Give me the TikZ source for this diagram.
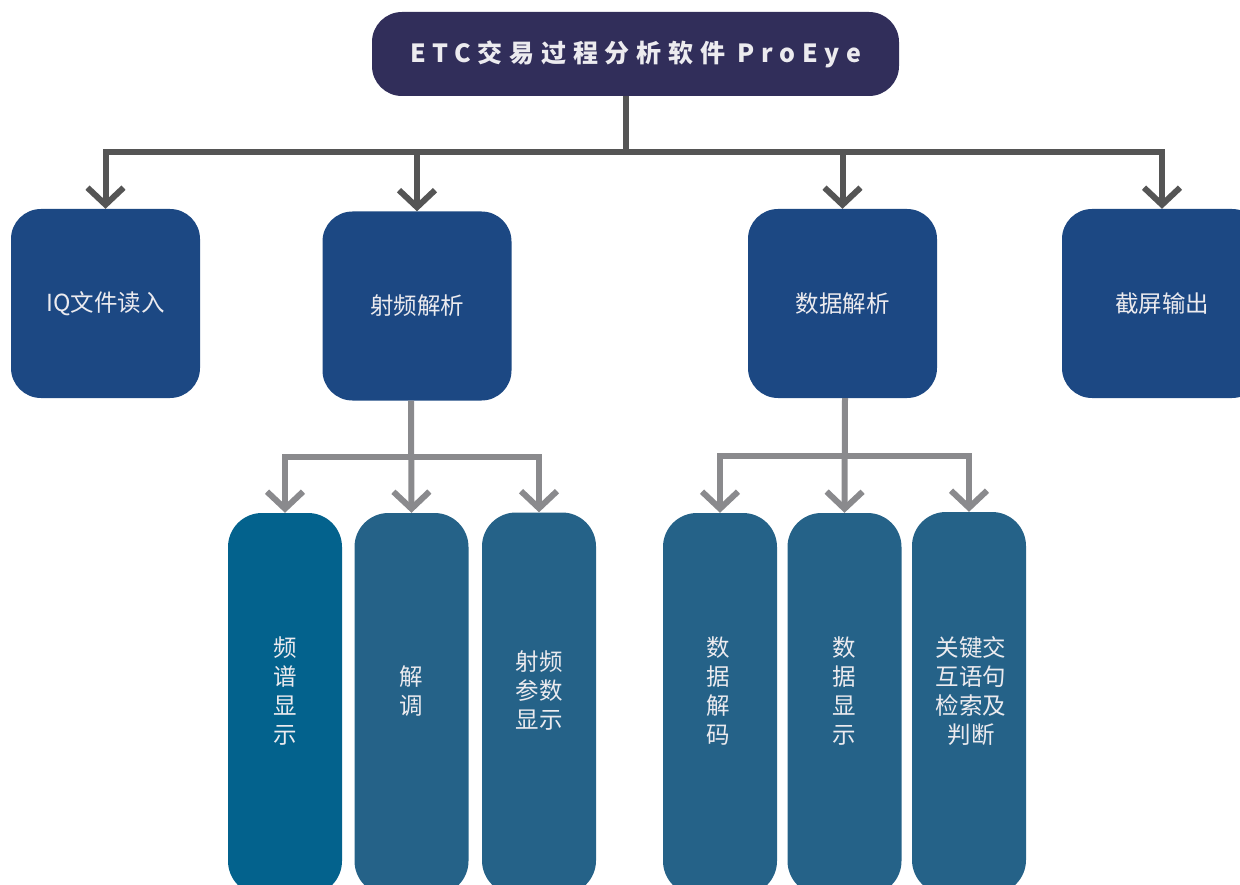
\documentclass[tikz,border=0pt]{standalone}
\usepackage{fontspec}
\setmainfont{Noto Sans CJK SC}
\newfontfamily\titlefont[LetterSpace=27]{Noto Sans CJK SC}
\usetikzlibrary{arrows.meta}
\definecolor{titlebg}{HTML}{312E5A}
\definecolor{lone}{HTML}{1C4883}
\definecolor{ltwoa}{HTML}{03628D}
\definecolor{ltwo}{HTML}{256288}
\definecolor{txt}{HTML}{ECEBEF}
\definecolor{cdark}{HTML}{555555}
\definecolor{clight}{HTML}{8A8A8D}
\begin{document}
\begin{tikzpicture}[x=1pt,y=-1pt]
\useasboundingbox (0,0) rectangle (1240,885);
\tikzset{
 topbox/.style={fill=titlebg, rounded corners=30pt, minimum width=527pt, minimum height=84pt, inner sep=0pt, text=txt, font=\titlefont\bfseries\fontsize{25}{30}\selectfont},
 lvlone/.style={fill=lone, rounded corners=30pt, minimum width=189pt, minimum height=189pt, inner sep=0pt, text=txt, font=\fontsize{23.5}{28}\selectfont},
 lvltwo/.style={fill=ltwo, rounded corners=34pt, minimum width=114pt, minimum height=382pt, inner sep=0pt},
 vlabel/.style={text=txt, align=center, inner sep=0pt, font=\fontsize{23.5}{29}\selectfont},
 mainconn/.style={draw=cdark, line width=6pt, -{Straight Barb[length=17pt 0 0,width=36pt 0 0]}},
 subconn/.style={draw=clight, line width=6pt, -{Straight Barb[length=17pt 0 0,width=36pt 0 0]}}
}
% title
\node[topbox] (title) at (635.5,54) {\raisebox{-2.5pt}{ETC交易过程分析软件 ProEye}};
% level one
\node[lvlone] (iq) at (105.5,303.5) {IQ文件读入};
\node[lvlone] (rf) at (417,306) {射频解析};
\node[lvlone] (data) at (842.5,303.5) {数据解析};
\node[lvlone, minimum width=200pt] (shot) at (1162,303.5) {截屏输出};
% level two
\node[lvltwo, fill=ltwoa] (b1) at (285,704) {};
\node[lvltwo] (b2) at (411.5,704) {};
\node[lvltwo] (b3) at (539,703.5) {};
\node[lvltwo] (d1) at (720,704) {};
\node[lvltwo] (d2) at (844.5,704) {};
\node[lvltwo] (d3) at (969,703) {};
\node[vlabel] (t1) at (285,691) {频\\谱\\显\\示};
\node[vlabel] (t2) at (411.5,691) {解\\调};
\node[vlabel] (t3) at (539,691) {射频\\参数\\显示};
\node[vlabel] (t4) at (718,691) {数\\据\\解\\码};
\node[vlabel] (t5) at (844.5,691) {数\\据\\显\\示};
\node[vlabel] (t6) at (971,691) {关键交\\互语句\\检索及\\判断};
% connectors
\draw[mainconn] ([xshift=-9.5pt]title.south) -- ++(0,56) -| (iq.north);
\draw[mainconn] ([xshift=-9.5pt]title.south) -- ++(0,56) -| (rf.north);
\draw[mainconn] ([xshift=-9.5pt]title.south) -- ++(0,56) -| (data.north);
\draw[mainconn] ([xshift=-9.5pt]title.south) -- ++(0,56) -| (shot.north);
\draw[subconn] ([xshift=-6pt]rf.south) -- ++(0,56) -| (b1.north);
\draw[subconn] ([xshift=-6pt]rf.south) -- (b2.north);
\draw[subconn] ([xshift=-6pt]rf.south) -- ++(0,56) -| (b3.north);
\draw[subconn] ([xshift=2.5pt]data.south) -- ++(0,58) -| (d1.north);
\draw[subconn] ([xshift=2.5pt]data.south) -- (d2.north);
\draw[subconn] ([xshift=2.5pt]data.south) -- ++(0,58) -| (d3.north);
\end{tikzpicture}
\end{document}
